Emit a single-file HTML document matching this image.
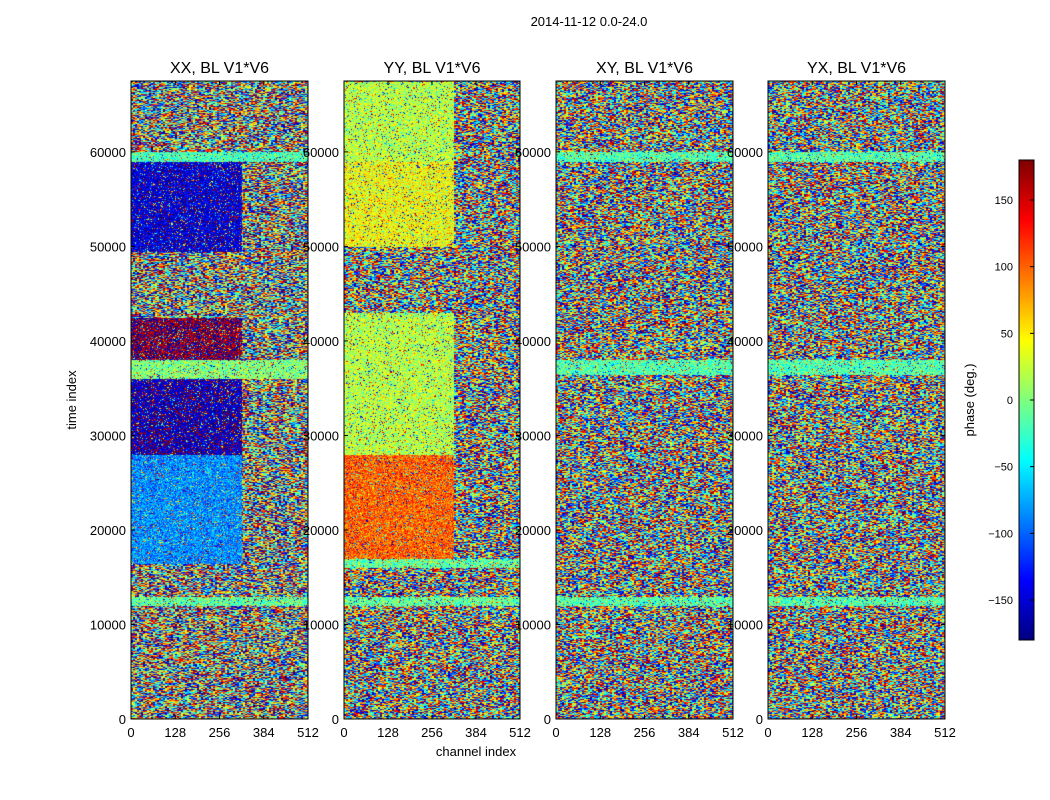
<!DOCTYPE html>
<html><head><meta charset="utf-8">
<style>
body{margin:0;background:#fff;font-family:"Liberation Sans",sans-serif;}
#wrap{position:relative;width:1050px;height:800px;overflow:hidden;}
canvas{position:absolute;}
svg{position:absolute;left:0;top:0;}
text{font-family:"Liberation Sans",sans-serif;fill:#000;}
</style></head><body>
<div id="wrap">
<canvas id="c0" width="177" height="638" style="left:131px;top:81px"></canvas>
<canvas id="c1" width="176" height="638" style="left:344px;top:81px"></canvas>
<canvas id="c2" width="177" height="638" style="left:556px;top:81px"></canvas>
<canvas id="c3" width="177" height="638" style="left:768px;top:81px"></canvas>
<canvas id="cb" width="15" height="480" style="left:1019px;top:160px"></canvas>
<svg id="ax" width="1050" height="800"></svg>
</div>
<script>
// ---- data ----
const panelTitles = ["XX, BL V1*V6","YY, BL V1*V6","XY, BL V1*V6","YX, BL V1*V6"];
const xTicks = [0,128,256,384,512];
const yTicks = [0,10000,20000,30000,40000,50000,60000];
const cbTicks = [-150,-100,-50,0,50,100,150];
// bands: start time, end time, phase in channels 0-320 (null = noisy), phase in 320-512
const xxStart = [0,12000,13000,16500,28000,36000,38000,42500,49500,59000,60000];
const xxEnd   = [12000,13000,16500,28000,36000,38000,42500,49500,59000,60000,67500];
const xxLeft  = [null,-10,null,-85,-160,0,175,null,-150,-20,null];
const xxRight = [null,-10,null,null,null,0,null,null,null,-20,null];
const yyStart = [0,12000,13000,16000,17000,28000,43000,50000,59000];
const yyEnd   = [12000,13000,16000,17000,28000,43000,50000,59000,67500];
const yyLeft  = [null,-10,null,-10,100,20,null,40,20];
const yyRight = [null,-10,null,-10,null,null,null,null,null];
const xyStart = [0,12000,13000,36500,38000,59000,60000];
const xyEnd   = [12000,13000,36500,38000,59000,60000,67500];
const xyLeft  = [null,-15,null,-15,null,-15,null];
const xyRight = [null,-15,null,-15,null,-15,null];
const yxStart = [0,12000,13000,36500,38000,59000,60000];
const yxEnd   = [12000,13000,36500,38000,59000,60000,67500];
const yxLeft  = [null,-15,null,-15,null,-15,null];
const yxRight = [null,-15,null,-15,null,-15,null];
const panelStarts=[xxStart,yyStart,xyStart,yxStart], panelEnds=[xxEnd,yyEnd,xyEnd,yxEnd];
const panelLefts=[xxLeft,yyLeft,xyLeft,yxLeft], panelRights=[xxRight,yyRight,xyRight,yxRight];

// ---- scales ----
const panelX=[131,344,556,768], panelW=[177,176,177,177];
const top0=81, bot0=719, tMax=67500;
const yScale=t=>bot0-(t/tMax)*(bot0-top0);
const xScale=(p,c)=>panelX[p]+c/512*panelW[p];
function jet(v){
  let x=(v+180)/360; x=Math.max(0,Math.min(1,x));
  const f=a=>Math.max(0,Math.min(1,a));
  return [f(1.5-Math.abs(4*x-3))*255,f(1.5-Math.abs(4*x-2))*255,f(1.5-Math.abs(4*x-1))*255];
}
function hash(a,b){let h=(a*374761393+b*668265263)|0;h=(h^(h>>>13))*1274126177|0;return ((h^(h>>>16))>>>0)/4294967296;}

for(let p=0;p<4;p++){
  const cv=document.getElementById('c'+p), ctx=cv.getContext('2d');
  const W=cv.width,H=cv.height, img=ctx.createImageData(W,H);
  const S=panelStarts[p],E=panelEnds[p],L=panelLefts[p],R=panelRights[p];
  for(let y=0;y<H;y++){
    const t=(H-y)/H*tMax;
    let b=0; for(let i=0;i<S.length;i++) if(t>=S[i]&&t<E[i]) b=i;
    for(let x=0;x<W;x++){
      const c=x/W*512, v=c<320?L[b]:R[b];
      let ph;
      if(v===null || hash(x+5,y*3+p)<0.15) ph=hash(x>>1,y+p*1000)*360-180;
      else ph=v+(hash(x,y+p*777)-0.5)*70;
      if(ph>180) ph-=360; if(ph<-180) ph+=360;
      const col=jet(ph), k=(y*W+x)*4;
      img.data[k]=col[0];img.data[k+1]=col[1];img.data[k+2]=col[2];img.data[k+3]=255;
    }
  }
  ctx.putImageData(img,0,0);
}
(function(){const cv=document.getElementById('cb'),ctx=cv.getContext('2d');
 for(let y=0;y<480;y++){const c=jet(180-y/480*360);ctx.fillStyle=`rgb(${c[0]|0},${c[1]|0},${c[2]|0})`;ctx.fillRect(0,y,15,1);}})();

// ---- axes ----
const svg=document.getElementById('ax'), NS='http://www.w3.org/2000/svg';
function el(tag,attrs,txt){const e=document.createElementNS(NS,tag);for(const k in attrs)e.setAttribute(k,attrs[k]);if(txt!==undefined)e.textContent=txt;svg.appendChild(e);return e;}
let e=el('text',{x:589,y:26,'text-anchor':'middle','font-size':13},'2014-11-12 0.0-24.0');


for(let p=0;p<4;p++){
  const x0=panelX[p],w=panelW[p];
  e=el('rect',{x:x0,y:top0,width:w,height:bot0-top0,fill:'none',stroke:'#000','stroke-width':1});
  
  
  e=el('text',{x:x0+w/2,y:73,'text-anchor':'middle','font-size':16},panelTitles[p]);
  
  
  xTicks.forEach(v=>{const x=xScale(p,v);
    el('line',{x1:x,x2:x,y1:bot0,y2:bot0-4,stroke:'#000'});el('line',{x1:x,x2:x,y1:top0,y2:top0+4,stroke:'#000'});
    e=el('text',{x:x,y:737,'text-anchor':'middle','font-size':13},v);
    
    });
  yTicks.forEach(v=>{const y=yScale(v);
    el('line',{x1:x0,x2:x0+4,y1:y,y2:y,stroke:'#000'});el('line',{x1:x0+w,x2:x0+w-4,y1:y,y2:y,stroke:'#000'});
    e=el('text',{x:x0-5,y:y+5,'text-anchor':'end','font-size':13},v);
    
    });
}
e=el('text',{x:476,y:756,'text-anchor':'middle','font-size':13},'channel index');


e=el('text',{x:76,y:400,'text-anchor':'middle','font-size':13,transform:'rotate(-90 76 400)'},'time index');


el('rect',{x:1019,y:160,width:15,height:480,fill:'none',stroke:'#000'});
cbTicks.forEach(v=>{const y=160+(180-v)/360*480;
  el('line',{x1:1030,x2:1034,y1:y,y2:y,stroke:'#000'});
  e=el('text',{x:1013,y:y+4,'text-anchor':'end','font-size':11},v<0?'\u2212'+(-v):v);
  
  });
e=el('text',{x:974,y:400,'text-anchor':'middle','font-size':13,transform:'rotate(-90 974 400)'},'phase (deg.)');


</script>
</body></html>
